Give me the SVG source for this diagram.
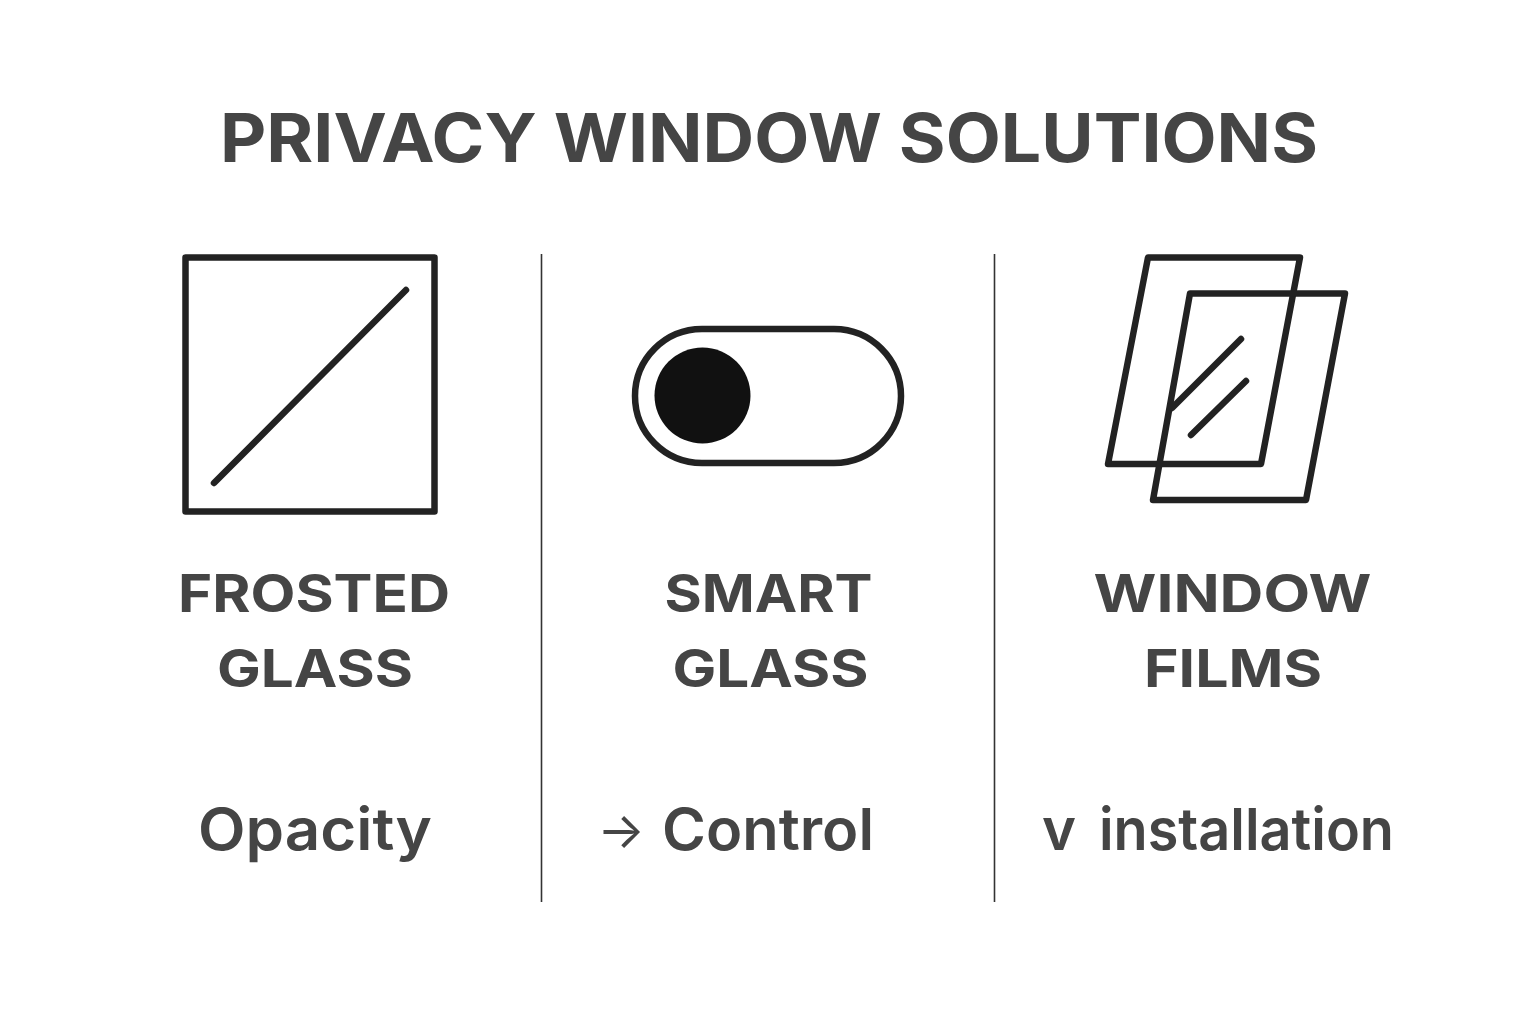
<svg xmlns="http://www.w3.org/2000/svg" width="1536" height="1024" viewBox="0 0 1536 1024">
<style>
text{font-family:"Inter","Liberation Sans",sans-serif;fill:#454545;text-anchor:middle}
.t{font-size:67px;font-weight:700}
.h{font-size:52px;font-weight:700}
.s{font-size:58px;font-weight:600}
.i{fill:none;stroke:#222;stroke-width:6.500;stroke-linejoin:round;stroke-linecap:round}
.d{stroke:#333;stroke-width:1.6}
</style>
<rect width="1536" height="1024" fill="#fff"/>
<text id="title" class="t" x="769" y="162" textLength="1098" lengthAdjust="spacingAndGlyphs">PRIVACY WINDOW SOLUTIONS</text>
<g id="dividers"><line class="d" x1="541.500" y1="254" x2="541.500" y2="902"/><line class="d" x1="994.500" y1="254" x2="994.500" y2="902"/></g>
<g id="frosted"><rect class="i" x="185.500" y="257.500" width="249" height="254"/><line class="i" x1="214" y1="483" x2="406" y2="290"/>
<text class="h" x="314" y="612" textLength="272" lengthAdjust="spacingAndGlyphs">FROSTED</text><text class="h" x="315" y="687" textLength="196" lengthAdjust="spacingAndGlyphs">GLASS</text><text class="s" x="315" y="850" textLength="234" lengthAdjust="spacingAndGlyphs">Opacity</text></g>
<g id="smart"><rect class="i" x="635" y="329" width="266" height="134" rx="67"/><circle cx="702.500" cy="395.500" r="48" fill="#111"/>
<text class="h" x="768.500" y="612" textLength="208" lengthAdjust="spacingAndGlyphs">SMART</text><text class="h" x="770.500" y="687" textLength="196" lengthAdjust="spacingAndGlyphs">GLASS</text><text x="621" y="848" style="font-size:50px;font-weight:400">→</text><text class="s" x="768" y="850" textLength="212" lengthAdjust="spacingAndGlyphs">Control</text></g>
<g id="films"><path class="i" d="M1148 257.500H1300L1261 464H1108Z"/><path class="i" d="M1190 293.500H1345L1306 500H1153Z"/><line class="i" x1="1172" y1="408" x2="1241" y2="339"/><line class="i" x1="1191" y1="435" x2="1246" y2="381"/>
<text class="h" x="1232.500" y="612" textLength="278" lengthAdjust="spacingAndGlyphs">WINDOW</text><text class="h" x="1233" y="687" textLength="178" lengthAdjust="spacingAndGlyphs">FILMS</text><text class="s" x="1059" y="850">v</text><text class="s" x="1246.500" y="850" textLength="295" lengthAdjust="spacingAndGlyphs">installation</text></g>
</svg>
